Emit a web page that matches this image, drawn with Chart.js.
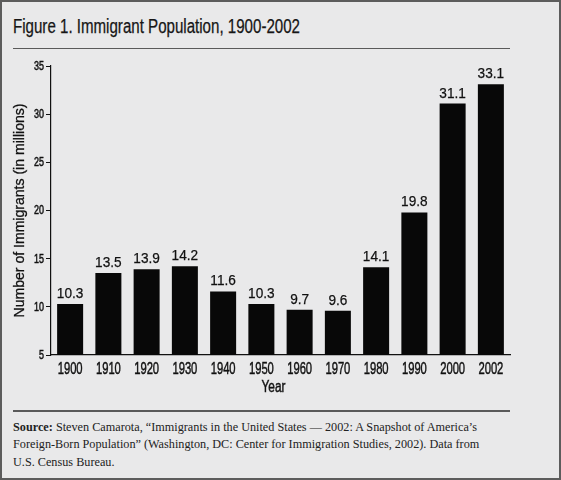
<!DOCTYPE html>
<html>
<head>
<meta charset="utf-8">
<script src="https://cdn.jsdelivr.net/npm/chart.js@4/dist/chart.umd.min.js"></script>
<style>
  html, body { margin: 0; padding: 0; }
  body { width: 561px; height: 480px; overflow: hidden; }
  #frame { position: absolute; left: 0; top: 0; width: 557px; height: 476px;
           border: 2px solid #5c5c5c; background: #e9e9ea; }
  #title { position: absolute; left: 11px; top: 14.3px; font-family: 'Liberation Sans', Arial, sans-serif;
           font-size: 19.5px; line-height: 20px; color: #161616; white-space: nowrap; transform-origin: 0 0;
           -webkit-text-stroke: 0.25px #161616; }
  .rule { position: absolute; left: 11px; width: 497px; background: #5a5a5a; }
  #wrap { position: absolute; left: -2px; top: 48px; width: 561px; height: 350px; }
  #source { position: absolute; left: 11px; top: 416.7px; font-family: 'Liberation Serif', 'DejaVu Serif', serif;
            font-size: 12.6px; line-height: 17.5px; color: #222; white-space: nowrap; transform-origin: 0 0; }
</style>
</head>
<body>
<div id="frame">
  <div id="title">Figure 1. Immigrant Population, 1900-2002</div>
  <div class="rule" style="top:45.5px;height:1.5px;"></div>
  <div id="wrap"><canvas id="c" width="561" height="350"></canvas></div>
  <div class="rule" style="top:407.5px;height:2px;"></div>
  <div id="source"><span id="l1"><b>Source:</b> Steven Camarota, “Immigrants in the United States — 2002: A Snapshot of America’s</span><br>Foreign-Born Population” (Washington, DC: Center for Immigration Studies, 2002). Data from<br>U.S. Census Bureau.</div>
</div>
<script>
const years = ['1900','1910','1920','1930','1940','1950','1960','1970','1980','1990','2000','2002'];
const immigrants = [10.3, 13.5, 13.9, 14.2, 11.6, 10.3, 9.7, 9.6, 14.1, 19.8, 31.1, 33.1];
const yTicks = [5, 10, 15, 20, 25, 30, 35];
const xTitle = 'Year';
const yTitle = 'Number of Immigrants (in millions)';

const SANS = "'Liberation Sans', Arial, sans-serif";

// fit HTML texts to the condensed widths of the reference
(function fitHtml() {
  const t = document.getElementById('title');
  t.style.transform = 'scaleX(' + (287 / t.getBoundingClientRect().width) + ')';
  const s = document.getElementById('source');
  const l1 = document.getElementById('l1');
  s.style.transform = 'scaleX(' + (464 / l1.getBoundingClientRect().width) + ')';
})();

function condensed(ctx, text, x, y, size, sx, align, baseline, rotate, stroke) {
  ctx.save();
  ctx.font = size + 'px ' + SANS;
  ctx.fillStyle = '#111';
  ctx.strokeStyle = '#111';
  ctx.textAlign = align;
  ctx.textBaseline = baseline;
  ctx.translate(x, y);
  if (rotate) ctx.rotate(rotate);
  ctx.scale(sx, 1);
  ctx.fillText(text, 0, 0);
  if (stroke) { ctx.lineWidth = stroke; ctx.strokeText(text, 0, 0); }
  ctx.restore();
}

const textPlugin = {
  id: 'condensedText',
  afterDraw(chart) {
    const ctx = chart.ctx;
    const area = chart.chartArea;
    const xs = chart.scales.x, ys = chart.scales.y;
    const meta = chart.getDatasetMeta(0);
    // value labels above bars
    meta.data.forEach((bar, i) => {
      condensed(ctx, immigrants[i].toFixed(1), bar.x, bar.y - 6, 15.5, 0.88, 'center', 'alphabetic', 0, 0.25);
    });
    // x tick labels
    years.forEach((yr, i) => {
      condensed(ctx, yr, xs.getPixelForTick(i), area.bottom + 19, 16.3, 0.69, 'center', 'alphabetic', 0, 0.45);
    });
    // y tick labels
    yTicks.forEach(v => {
      condensed(ctx, String(v), area.left - 7, ys.getPixelForValue(v) + 0.5, 12.5, 0.72, 'right', 'middle', 0, 0.5);
    });
    // axis titles
    condensed(ctx, xTitle, (area.left + area.right) / 2 - 7, area.bottom + 37, 16, 0.74, 'center', 'alphabetic', 0, 0.45);
    ctx.save();
    ctx.font = '14.5px ' + SANS;
    const w = ctx.measureText(yTitle).width;
    ctx.restore();
    condensed(ctx, yTitle, 20, (area.top + area.bottom) / 2, 14.5, 214 / w, 'center', 'middle', -Math.PI / 2, 0.3);
  }
};

new Chart(document.getElementById('c'), {
  type: 'bar',
  data: {
    labels: years,
    datasets: [{
      data: immigrants,
      backgroundColor: '#080808',
      borderWidth: 0,
      barPercentage: 0.68,
      categoryPercentage: 1.0
    }]
  },
  options: {
    responsive: false,
    animation: false,
    devicePixelRatio: 1,
    layout: { padding: { top: 16, right: 51, left: 0, bottom: 0 } },
    plugins: { legend: { display: false }, tooltip: { enabled: false } },
    scales: {
      x: {
        grid: { display: true, drawOnChartArea: false, drawTicks: false },
        border: { display: true, color: '#111', width: 1.2 },
        ticks: { display: false },
        title: { display: false, text: xTitle },
        afterFit(s) { s.height = 45; }
      },
      y: {
        min: 5, max: 35,
        afterBuildTicks(s) { s.ticks = yTicks.map(v => ({ value: v })); },
        grid: { display: true, drawOnChartArea: false, drawTicks: true, tickLength: 5, color: '#111' },
        border: { display: true, color: '#111', width: 1.2 },
        ticks: { display: false },
        title: { display: false, text: yTitle },
        afterFit(s) { s.width = 51; }
      }
    }
  },
  plugins: [textPlugin]
});
</script>
</body>
</html>
